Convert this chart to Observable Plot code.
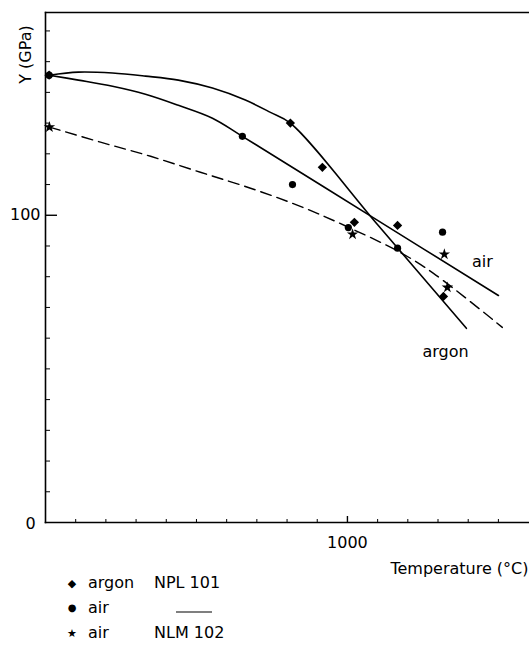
<!DOCTYPE html>
<html>
<head>
<meta charset="utf-8">
<script src="https://cdn.jsdelivr.net/npm/d3@7"></script>
<script src="https://cdn.jsdelivr.net/npm/@observablehq/plot@0.6"></script>
<style>
  html, body { margin: 0; padding: 0; background: #fff; }
  #chart { position: relative; width: 529px; }
  #legend { position: relative; width: 529px; height: 73px; font-family: "DejaVu Sans", sans-serif; font-size: 16px; color: #000; }
  #legend span { position: absolute; line-height: 1; transform: translateY(-50%); white-space: nowrap; }
  #legend .sym { transform: translate(-50%, -50%); }
</style>
</head>
<body>
<div id="chart"></div>
<div id="legend"></div>
<script>
// ---- data (temperature °C, Young's modulus GPa) ----
const argonT = [12, 811, 917, 1023, 1166, 1318];
const argonY = [145.6, 130.0, 115.6, 97.7, 96.7, 73.6];

const airT = [12, 652, 818, 1003, 1166, 1315];
const airY = [145.6, 125.7, 110.0, 96.0, 89.3, 94.5];

const nlmT = [13, 1017, 1321, 1331];
const nlmY = [128.7, 93.8, 87.3, 76.5];

// fitted curves
const argonCurveT = [12, 109, 222, 331, 440, 553, 662, 745, 811, 1103, 1394];
const argonCurveY = [145.6, 146.6, 146.3, 145.3, 144.0, 141.4, 137.5, 133.5, 130.0, 96.6, 63.2];

const airCurveT = [12, 109, 222, 331, 440, 553, 652, 1076, 1500];
const airCurveY = [145.6, 144.0, 142.0, 139.4, 135.8, 131.6, 125.7, 99.8, 73.9];

const nlmCurveT = [13, 182, 348, 513, 679, 844, 1003, 1175, 1285, 1513];
const nlmCurveY = [128.7, 123.8, 119.2, 114.0, 108.8, 102.9, 96.1, 87.9, 81.1, 63.5];

// curve labels
const curveLabels = ["air", "argon"];
const curveLabelT = [1447, 1325];
const curveLabelY = [84.7, 55.4];

// ticks
const xMajorTicks = [1000];
const xMinorTicks = [100, 200, 300, 400, 500, 600, 700, 800, 900, 1100, 1200, 1300, 1400, 1500];
const yMajorTicks = [100];
const yMinorTicks = [10, 20, 30, 40, 50, 60, 70, 80, 90, 110, 120, 130, 140, 150, 160];
const xTickLabels = ["1000"];
const yTickLabels = ["100"];
const originLabel = "0";
const xLabel = "Temperature (°C)";
const yLabel = "Y (GPa)";

// legend
const legendSymbols = ["◆", "●", "★"];
const legendAtmos = ["argon", "air", "air"];
const legendMaterial = ["NPL 101", "—", "NLM 102"];

// ---- build ----
const zip = (T, Y) => T.map((t, i) => ({t, y: Y[i]}));
const W = 529, H = 575, mL = 45, mR = 0, mT = 12, mB = 53;
const frameW = W - mL - mR, frameH = H - mT - mB;

const plot = Plot.plot({
  width: W, height: H,
  marginLeft: mL, marginRight: mR, marginTop: mT, marginBottom: mB,
  x: {domain: [0, 1603], axis: null},
  y: {domain: [0, 166], axis: null},
  style: {fontFamily: "DejaVu Sans, sans-serif", fontSize: "16px", color: "#000", background: "#fff", overflow: "visible"},
  marks: [
    Plot.frame({anchor: "left", strokeWidth: 1.6}),
    Plot.frame({anchor: "top", strokeWidth: 1.4}),
    Plot.frame({anchor: "bottom", strokeWidth: 1.6}),
    Plot.tickX(xMinorTicks, {x: d => d, insetTop: frameH - 3, strokeWidth: 1}),
    Plot.tickX(xMajorTicks, {x: d => d, insetTop: frameH - 6, strokeWidth: 1.4}),
    Plot.tickY(yMinorTicks, {y: d => d, insetRight: frameW - 5, strokeWidth: 1}),
    Plot.tickY(yMajorTicks, {y: d => d, insetRight: frameW - 12, strokeWidth: 1.4}),
    Plot.text(xMajorTicks, {x: d => d, text: (d, i) => xTickLabels[i], frameAnchor: "bottom", textAnchor: "middle", lineAnchor: "middle", dy: 20}),
    Plot.text(yMajorTicks, {y: d => d, text: (d, i) => yTickLabels[i], frameAnchor: "left", textAnchor: "end", lineAnchor: "middle", dx: -5}),
    Plot.text([originLabel], {frameAnchor: "bottom-left", textAnchor: "middle", lineAnchor: "middle", dx: -15, dy: 1}),
    Plot.text([xLabel], {frameAnchor: "bottom-right", textAnchor: "end", lineAnchor: "middle", dx: -1, dy: 46}),
    Plot.text([yLabel], {frameAnchor: "top-left", textAnchor: "middle", lineAnchor: "middle", rotate: -90, dx: -20, dy: 42}),
    // curves
    Plot.line(zip(argonCurveT, argonCurveY), {x: "t", y: "y", curve: "catmull-rom", stroke: "#000", strokeWidth: 1.6}),
    Plot.line(zip(airCurveT, airCurveY), {x: "t", y: "y", curve: "catmull-rom", stroke: "#000", strokeWidth: 1.6}),
    Plot.line(zip(nlmCurveT, nlmCurveY), {x: "t", y: "y", curve: "catmull-rom", stroke: "#000", strokeWidth: 1.4, strokeDasharray: "11,6"}),
    // points
    Plot.dot(zip(argonT, argonY), {x: "t", y: "y", symbol: "diamond2", r: 4.2, fill: "#000", stroke: "none"}),
    Plot.dot(zip(airT, airY), {x: "t", y: "y", symbol: "circle", r: 3.6, fill: "#000", stroke: "none"}),
    Plot.dot(zip(nlmT, nlmY), {x: "t", y: "y", symbol: "star", r: 3.6, fill: "#000", stroke: "none"}),
    // curve labels
    Plot.text(curveLabels, {x: (d, i) => curveLabelT[i], y: (d, i) => curveLabelY[i], text: d => d, fontSize: 16, lineAnchor: "middle"})
  ]
});
document.getElementById("chart").appendChild(plot);

// legend below the chart
const legend = document.getElementById("legend");
const rowsY = [8, 33, 58];
legendSymbols.forEach((s, i) => {
  const sym = document.createElement("span");
  sym.className = "sym";
  sym.textContent = s;
  sym.style.left = "72px";
  sym.style.top = rowsY[i] + "px";
  sym.style.fontSize = i === 1 ? "10px" : "11px";
  legend.appendChild(sym);
  const a = document.createElement("span");
  a.textContent = legendAtmos[i];
  a.style.left = "88px";
  a.style.top = rowsY[i] + "px";
  legend.appendChild(a);
  const m = document.createElement("span");
  if (legendMaterial[i] === "—") {
    m.style.left = "176px";
    m.style.top = (rowsY[i] + 4) + "px";
    m.style.width = "36px";
    m.style.height = "0";
    m.style.borderTop = "1.5px solid #000";
  } else {
    m.textContent = legendMaterial[i];
    m.style.left = "154px";
    m.style.top = rowsY[i] + "px";
  }
  legend.appendChild(m);
});
</script>
</body>
</html>
